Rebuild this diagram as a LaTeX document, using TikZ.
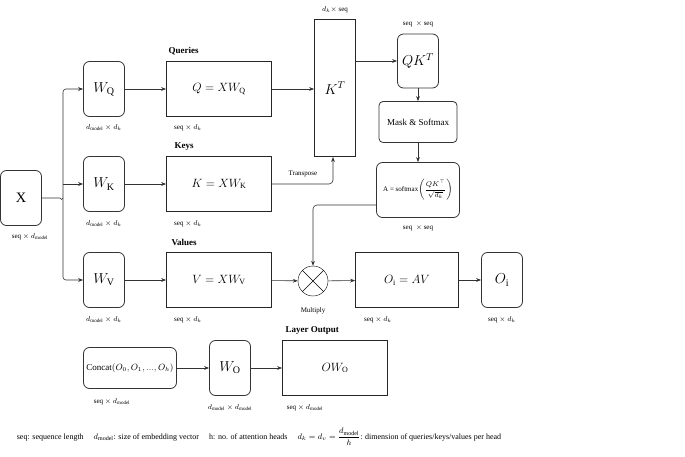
\documentclass[tikz,border=0pt]{standalone}
\usepackage{amsmath}
\usepackage{fontspec}
\setmainfont{Liberation Serif}
\usetikzlibrary{shapes.geometric,arrows.meta}
\begin{document}
\begin{tikzpicture}[x=1pt,y=-1pt,
 rb/.style={draw=black!80,rounded corners=6pt,thick,minimum width=41pt,minimum height=55pt,inner sep=1pt},
 bx/.style={draw=black!85,thick,minimum width=105pt,minimum height=55pt},
 sm/.style={font=\scriptsize},
 hd/.style={font=\small\bfseries},
 ar/.style={-{Stealth[length=5pt]},black!80,semithick}]
\useasboundingbox (0,0) rectangle (685,457);
\node[rb] (X) at (21,198) {\Large X};
\node[sm] at (30,237) {seq $\times$ $d_{\mathrm{model}}$};
\node[rb] (WQ) at (104,89) {\Large $W_{\mathrm{Q}}$};
\node[rb] (WK) at (104,184) {\Large $W_{\mathrm{K}}$};
\node[rb] (WV) at (104,280) {\Large $W_{\mathrm{V}}$};
\foreach \y in {128,224,320} \node[sm] at (104,\y) {$d_{\mathrm{model}}\times d_k$};
\node[bx] (Q) at (219,89) {\large $Q=XW_{\mathrm{Q}}$};
\node[bx] (K) at (219,184) {\large $K=XW_{\mathrm{K}}$};
\node[bx] (V) at (219,280) {\large $V=XW_{\mathrm{V}}$};
\node[hd,anchor=south west] at (165,58) {Queries};
\node[hd,anchor=south west] at (171,154) {Keys};
\node[hd,anchor=south west] at (168,249) {Values};
\foreach \y in {128,224,320} \node[sm] at (188,\y) {seq $\times$ $d_k$};
\node[draw=black!85,thick,minimum width=41pt,minimum height=137pt] (KT) at (335,88) {\Large $K^T$};
\node[sm] at (335,10) {$d_k\times$ seq};
\node[rb,minimum height=54pt] (QK) at (418,61) {\Large $QK^T$};
\node[sm] at (418,24) {seq $\ \times$ seq};
\node[rb,rounded corners=4pt,minimum width=78pt,minimum height=41pt,font=\small] (MS) at (418,122) {Mask \& Softmax};
\node[rb,minimum width=83pt,minimum height=55pt,font=\scriptsize] (A) at (418,190) {A = softmax$\left(\dfrac{QK^{\top}}{\sqrt{d_k}}\right)$};
\node[sm] at (418,228) {seq $\ \times$ seq};
\node[draw,circle,minimum size=30pt,inner sep=0pt] (M) at (313,281) {};
\draw (M.north west)--(M.south east) (M.north east)--(M.south west);
\node[sm] at (313,311) {Multiply};
\node[bx,minimum width=103pt] (O) at (407,280) {\large $O_{\mathrm{i}}=AV$};
\node[sm] at (378,320) {seq $\times$ $d_k$};
\node[rb] (Oi) at (502,280) {\Large $O_{\mathrm{i}}$};
\node[sm] at (502,320) {seq $\times$ $d_k$};
\node[rb,minimum width=93pt,minimum height=41pt,font=\small] (C) at (130,368) {Concat$(O_0,O_1,...,O_h)$};
\node[sm] at (112,402) {seq $\times$ $d_{\mathrm{model}}$};
\node[rb] (WO) at (230,368) {\Large $W_{\mathrm{O}}$};
\node[sm] at (230,408) {$d_{\mathrm{model}}\times d_{\mathrm{model}}$};
\node[bx] (OW) at (335,368) {\large $OW_{\mathrm{O}}$};
\node[hd,anchor=south west] at (282,338) {Layer Output};
\node[sm] at (305,408) {seq $\times$ $d_{\mathrm{model}}$};
\node[font=\footnotesize] (F) at (259,437) {seq: sequence length\quad\ $d_{\mathrm{model}}$: size of embedding vector\quad\ h: no. of attention heads\quad\ $d_k=d_v=\dfrac{d_{\mathrm{model}}}{h}$: dimension of queries/keys/values per head};
\draw[black!80,semithick] (X.east)--(60,198) arc(180:0:1.5);
\draw[ar,rounded corners=3pt] (63,198)|-(WQ.west);
\draw[ar] (63,184)--(WK.west);
\draw[ar,rounded corners=3pt] (63,198)|-(WV.west);
\draw[ar] (WQ)--(Q); \draw[ar] (WK)--(K); \draw[ar] (WV)--(V);
\draw[ar] (Q)--(Q-|KT.west);
\draw[ar,rounded corners=4pt] (K.east)-|(333,157);
\node[sm] at (303,174) {Transpose};
\draw[ar] (KT.east|-QK)--(QK.west);
\draw[ar] (QK)--(MS); \draw[ar] (MS)--(A);
\draw[ar,rounded corners=4pt] (A.west|-0,205)-|(M.north);
\draw[ar] (V)--(M); \draw[ar] (M)--(O); \draw[ar] (O)--(Oi);
\draw[ar] (C)--(WO); \draw[ar] (WO)--(OW);
\end{tikzpicture}
\end{document}
